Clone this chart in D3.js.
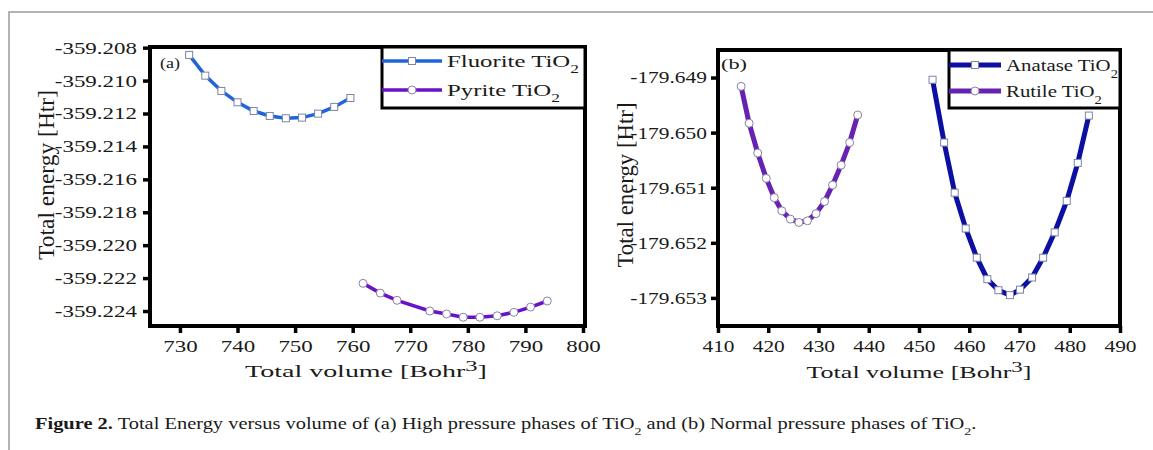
<!DOCTYPE html>
<html>
<head>
<meta charset="utf-8">
<script src="https://cdn.jsdelivr.net/npm/d3@7"></script>
<style>
  body { margin: 0; background: #fff; }
  svg text { font-family: "Liberation Serif", "Times New Roman", Times, serif !important; fill: #1a1a1a; }
</style>
</head>
<body>
<div id="fig"></div>
<script>
// values
const fluoriteV = [731.6, 734.4, 737.2, 740.0, 742.8, 745.6, 748.4, 751.2, 754.0, 756.8, 759.6];
const fluoriteE = [-359.20844, -359.2097, -359.21063, -359.21132, -359.21185, -359.21215, -359.21229, -359.21225, -359.21201, -359.2116, -359.21106];
const pyriteV = [761.8, 764.8, 767.7, 773.4, 776.3, 779.2, 782.1, 785.1, 788.0, 790.9, 793.8];
const pyriteE = [-359.22232, -359.22291, -359.22335, -359.224, -359.22418, -359.22438, -359.22438, -359.22429, -359.22408, -359.22376, -359.22339];

const rutileV = [414.6, 416.2, 417.9, 419.6, 421.2, 422.7, 424.4, 426.1, 427.8, 429.5, 431.2, 432.8, 434.5, 436.2, 437.8];
const rutileE = [-179.64916, -179.64983, -179.65037, -179.65083, -179.65118, -179.65142, -179.65157, -179.65163, -179.6516, -179.65147, -179.65125, -179.65095, -179.65059, -179.65018, -179.64968];
const anataseV = [452.7, 455.0, 457.1, 459.3, 461.5, 463.6, 465.8, 468.1, 470.1, 472.5, 474.7, 477.0, 479.4, 481.6, 483.8];
const anataseE = [-179.64904, -179.65018, -179.65109, -179.65174, -179.65227, -179.65266, -179.65286, -179.65295, -179.65285, -179.65263, -179.65227, -179.65181, -179.65124, -179.65055, -179.64969];

const xTicksA = [730, 740, 750, 760, 770, 780, 790, 800];
const yTicksA = [-359.208, -359.210, -359.212, -359.214, -359.216, -359.218, -359.220, -359.222, -359.224];
const xTicksB = [410, 420, 430, 440, 450, 460, 470, 480, 490];
const yTicksB = [-179.649, -179.650, -179.651, -179.652, -179.653];

const W = 1153, H = 450;
const svg = d3.select("#fig").append("svg").attr("width", W).attr("height", H);

// page frame (gray lines at top and left)
svg.append("path").attr("d", "M9,450V12H1153").attr("fill", "none")
   .attr("stroke", "#9c9c9c").attr("stroke-width", 1.5);

/*placeText: writes a text at (x,y) and stretches it to a target width
*Parameters:
*   parent, string or function filling the text, x, y, anchor, target width, font size
*Returns:
*   the text selection
*/
function placeText(parent, fill, x, y, anchor, width, size) {
    let g = parent.append("g");
    let t = g.append("text").attr("text-anchor", anchor).style("font-size", size + "px");
    if (typeof fill === "string") t.text(fill); else fill(t);
    let k = width / t.node().getBBox().width;
    g.attr("transform", "translate(" + x + "," + y + ") scale(" + k + ",1)");
    return t;
}

function subTi(t, name, size) {
    t.append("tspan").text(name + " TiO");
    t.append("tspan").text("2").attr("baseline-shift", "sub").style("font-size", (size * 0.7) + "px");
}

// hyphen instead of the unicode minus, like the picture
let fmt3 = d => d3.format(".3f")(d).replace("\u2212", "-");

function drawPanel(p) {
    let x = d3.scaleLinear().domain(p.xDomain).range([p.left, p.right]);
    let y = d3.scaleLinear().domain(p.yDomain).range([p.bottom, p.top]);
    let g = svg.append("g");

    // axes
    let ax = g.append("g").attr("transform", "translate(" + p.left + ",0)")
              .call(d3.axisLeft(y).tickValues(p.yTicks).tickFormat(fmt3).tickSize(7));
    let bx = g.append("g").attr("transform", "translate(0," + p.bottom + ")")
              .call(d3.axisBottom(x).tickValues(p.xTicks).tickFormat(d3.format("d")).tickSize(7));
    [ax, bx].forEach(a => {
        a.attr("font-family", null);
        a.select(".domain").remove();
        a.selectAll("line").attr("stroke", "#000").attr("stroke-width", 3.5);
        a.selectAll("text").style("font-size", "17px").attr("fill", "#222");
    });
    ax.selectAll("text").attr("x", 0)
      .attr("transform", "translate(" + p.tickGap + ",0) scale(" + p.sx + ",1)");
    bx.selectAll("text").attr("y", 0)
      .attr("transform", "translate(0,14) scale(" + p.sx + ",1)");

    // series
    let line = d3.line().x(d => x(d[0])).y(d => y(d[1]));
    p.series.forEach(s => {
        let pts = s.v.map((v, i) => [v, s.e[i]]);
        g.append("path").datum(pts).attr("d", line).attr("fill", "none")
         .attr("stroke", s.color).attr("stroke-width", p.lw);
        drawMarkers(g, pts.map(d => [x(d[0]), y(d[1])]), s.shape);
    });

    // frame
    g.append("rect").attr("x", p.left).attr("y", p.top)
     .attr("width", p.right - p.left).attr("height", p.bottom - p.top)
     .attr("fill", "none").attr("stroke", "#000").attr("stroke-width", 4);

    // legend
    let lg = p.legend;
    g.append("rect").attr("x", lg.x0).attr("y", p.top).attr("width", p.right - lg.x0)
     .attr("height", lg.y1 - p.top).attr("fill", "#fff").attr("stroke", "#000").attr("stroke-width", 3);
    p.series.forEach((s, i) => {
        let ly = lg.rows[i];
        g.append("line").attr("x1", lg.x0).attr("x2", lg.lineEnd).attr("y1", ly).attr("y2", ly)
         .attr("stroke", s.color).attr("stroke-width", p.lw);
        drawMarkers(g, [[(lg.x0 + lg.lineEnd) / 2, ly]], s.shape);
        placeText(g, t => subTi(t, s.name, 17), lg.textX, ly + 6, "start", s.legendW, 17);
    });

    // panel tag
    placeText(g, p.tag, p.tagX, p.tagY, "start", p.tagW, 15);

    // axis titles
    placeText(g, t => {
        t.append("tspan").text("Total volume [Bohr");
        t.append("tspan").text("3").attr("baseline-shift", "40%").style("font-size", "15px");
        t.append("tspan").text("]");
    }, p.xTitle[0], p.xTitle[1], "middle", p.xTitle[2], 17);

    let yt = g.append("g");
    let t = yt.append("text").attr("text-anchor", "middle").style("font-size", "17px").text("Total energy [Htr]");
    let k = p.yTitle[2] / t.node().getBBox().width;
    yt.attr("transform", "translate(" + p.yTitle[0] + "," + p.yTitle[1] + ") rotate(-90) scale(" + k + ",1.35)");
}

function drawMarkers(g, pts, shape) {
    pts.forEach(d => {
        if (shape === "square") {
            g.append("rect").attr("x", d[0] - 3.5).attr("y", d[1] - 3.5).attr("width", 7).attr("height", 7)
             .attr("fill", "#fff").attr("stroke", "#7d84a6").attr("stroke-width", 1);
        } else {
            g.append("circle").attr("cx", d[0]).attr("cy", d[1]).attr("r", 4)
             .attr("fill", "#fff").attr("stroke", "#8a80a8").attr("stroke-width", 1);
        }
    });
}

drawPanel({
    left: 150, right: 585, top: 47, bottom: 326,
    xDomain: [724.8, 800.35], yDomain: [-359.22491, -359.20796],
    xTicks: xTicksA, yTicks: yTicksA, sx: 1.35, tickGap: -13, lw: 3.5,
    series: [
        {name: "Fluorite", v: fluoriteV, e: fluoriteE, color: "#1f63de", shape: "square", legendW: 132},
        {name: "Pyrite", v: pyriteV, e: pyriteE, color: "#6a12c6", shape: "circle", legendW: 113}
    ],
    legend: {x0: 382, y1: 108, rows: [61, 90], lineEnd: 442, textX: 447},
    tag: "(a)", tagX: 160, tagY: 68, tagW: 20,
    xTitle: [366, 377, 242],
    yTitle: [54, 175, 170]
});

drawPanel({
    left: 718, right: 1120, top: 50, bottom: 326,
    xDomain: [410, 490], yDomain: [-179.65351, -179.6485],
    xTicks: xTicksB, yTicks: yTicksB, sx: 1.26, tickGap: -11, lw: 5,
    series: [
        {name: "Anatase", v: anataseV, e: anataseE, color: "#0c10a2", shape: "square", legendW: 112},
        {name: "Rutile", v: rutileV, e: rutileE, color: "#6622b2", shape: "circle", legendW: 96}
    ],
    legend: {x0: 949, y1: 108, rows: [65, 91], lineEnd: 1001, textX: 1006},
    tag: "(b)", tagX: 721, tagY: 69, tagW: 26,
    xTitle: [919, 378, 225],
    yTitle: [633, 185, 165]
});

// caption
placeText(svg, t => {
    t.append("tspan").text("Figure 2.").style("font-weight", "bold");
    t.append("tspan").text(" Total Energy versus volume of (a) High pressure phases of TiO");
    t.append("tspan").text("2").attr("baseline-shift", "sub").style("font-size", "11px");
    t.append("tspan").text(" and (b) Normal pressure phases of TiO");
    t.append("tspan").text("2").attr("baseline-shift", "sub").style("font-size", "11px");
    t.append("tspan").text(".");
}, 35, 429, "start", 942, 16);
</script>
</body>
</html>
